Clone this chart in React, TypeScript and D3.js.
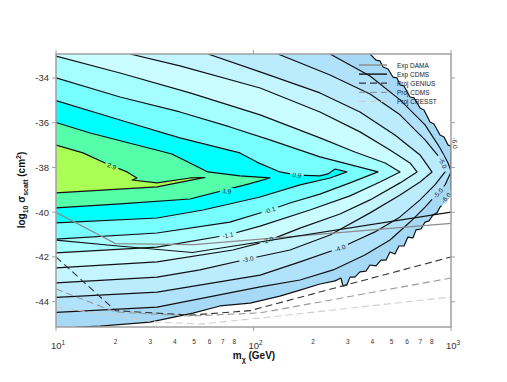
import React from 'react';
import * as d3 from 'd3';

type P = [number, number];

// ---------- axes ----------
const massDomain: P = [10, 1000];
const sigmaDomain: P = [-45.13, -32.93];
const yTicks = [-44, -42, -40, -38, -36, -34];
const xMajor = [10, 100, 1000];
const xMajorExp = ['1', '2', '3'];
const xMinorDigits = [2, 3, 4, 5, 6, 7, 8];

// ---------- contour lines [mass GeV, log10 sigma] ----------
const contour_p29: P[] = [[10,-37.0],[13.7,-37.35],[17.7,-37.8],[22.9,-38.2],[25.7,-38.47],[24.3,-38.56],[32.5,-38.69],[47.7,-38.47],[56.8,-38.45],[47.7,-38.58],[32.5,-38.87],[10,-39.14]];
const contour_p19: P[] = [[10,-35.99],[14.9,-36.46],[38.6,-37.4],[47.7,-37.8],[58.8,-38.2],[85.4,-38.38],[121,-38.47],[96,-38.72],[47.7,-39.41],[21.1,-39.63],[10,-39.81]];
const contour_p09: P[] = [[10,-35.01],[21.1,-35.88],[42.4,-36.68],[85.4,-37.35],[104,-37.76],[136,-38.2],[166,-38.34],[217,-38.38],[238,-38.29],[259,-38.07],[297,-38.2],[244,-38.47],[172,-38.78],[108,-39.32],[55.5,-39.9],[32.5,-40.26],[10,-40.48]];
const contour_m01: P[] = [[10,-34.0],[21.1,-34.85],[42.4,-35.52],[76,-36.19],[121,-36.77],[217,-37.53],[326,-37.93],[427,-38.2],[308,-38.69],[217,-39.19],[153,-39.59],[121,-39.9],[76,-40.44],[32.5,-40.93],[10,-41.2]];
const contour_m11: P[] = [[10,-33.02],[21.1,-33.78],[47.7,-34.67],[108,-35.65],[217,-36.68],[326,-37.31],[464,-37.8],[552,-38.2],[437,-38.65],[308,-39.27],[193,-39.9],[108,-40.62],[74.2,-41.02],[32.5,-41.56],[10,-41.82]];
const contour_m20: P[] = [[23.7,-32.93],[42.4,-33.46],[108,-34.45],[217,-35.52],[346,-36.41],[491,-37.22],[620,-37.8],[673,-38.2],[552,-38.69],[389,-39.45],[274,-40.08],[172,-40.71],[117,-41.29],[78.7,-41.69],[32.5,-42.22],[10,-42.49]];
const contour_m30: P[] = [[58.8,-32.93],[108,-33.73],[217,-34.67],[346,-35.52],[520,-36.55],[697,-37.44],[801,-38.2],[697,-38.65],[552,-39.23],[389,-40.03],[244,-41.02],[153,-41.69],[93.7,-42.09],[53.6,-42.58],[32.5,-42.9],[10,-43.16]];
const contour_m40: P[] = [[133,-32.93],[244,-33.87],[389,-34.72],[552,-35.65],[739,-36.77],[880,-37.58],[933,-38.2],[829,-38.78],[697,-39.45],[552,-40.21],[412,-40.88],[319,-41.33],[274,-41.6],[172,-42.22],[108,-42.81],[32.5,-43.57],[10,-43.81]];
const contour_m50: P[] = [[244,-32.93],[389,-33.91],[552,-34.98],[739,-36.1],[880,-37.13],[966,-37.8],[1000,-38.2],[933,-38.78],[859,-39.14],[739,-39.77],[620,-40.44],[491,-41.24],[366,-41.91],[253,-42.58],[172,-43.03],[108,-43.34],[32.5,-44.24],[10,-44.48]];
const contour_m60: P[] = [[389,-32.93],[417,-33.2],[437,-33.24],[453,-33.51],[480,-33.6],[508,-33.96],[533,-34.0],[552,-34.31],[578,-34.36],[620,-34.85],[650,-34.89],[697,-35.34],[730,-35.43],[783,-35.97],[820,-36.06],[880,-36.55],[922,-36.64],[966,-37.0],[1000,-37.04],[1000,-39.23],[933,-39.59],[880,-39.77],[849,-40.03],[811,-40.12],[774,-40.39],[739,-40.44],[705,-40.75],[665,-40.79],[642,-41.15],[605,-41.11],[578,-41.51],[545,-41.51],[520,-41.87],[491,-41.78],[469,-42.14],[442,-42.14],[417,-42.4],[389,-42.36],[371,-42.63],[346,-42.67],[326,-42.9],[308,-42.9],[297,-43.25],[284,-43.3],[277,-42.94],[259,-43.07],[217,-43.21],[172,-43.48],[136,-43.75],[96,-44.06],[67.6,-44.19],[49.4,-44.51],[29.9,-44.91],[16.7,-45.09],[12.9,-45.13],[10,-45.3]];

const contourLevels = ['-6.0', '-5.0', '-4.0', '-3.0', '-2.0', '-1.1', '-0.1', '0.9', '1.9', '2.9'];
const contourLines = [contour_m60, contour_m50, contour_m40, contour_m30, contour_m20, contour_m11, contour_m01, contour_p09, contour_p19, contour_p29];
const bandColors = ['#a5d9f6', '#b0e3fb', '#baecfe', '#c2f5ff', '#c9fdff', '#a6ffff', '#77ffff', '#00ffff', '#55ffaa', '#aaff55'];

// contour labels: [level index, mass, log sigma]
const contourLabels: [number, number, number][] = [
  [9, 19.2, -37.93], [8, 73.4, -39.05], [7, 166, -38.34], [6, 121, -39.9], [5, 74.2, -41.02],
  [4, 118, -41.24], [3, 93.7, -42.09], [2, 274, -41.6], [1, 911, -37.8], [1, 859, -39.14],
  [0, 1048, -36.91], [0, 943, -39.36],
];

// ---------- exclusion limits ----------
const expDAMA: P[] = [[10,-40.0],[20,-41.4],[50,-41.45],[1000,-40.5]];
const expCDMS: P[] = [[10,-41.25],[20,-41.5],[49,-41.8],[1000,-40.0]];
const projGENIUS: P[] = [[10,-42.0],[20,-44.4],[48,-44.6],[96,-44.4],[1000,-42.0]];
const projCDMS: P[] = [[10,-43.43],[20,-44.46],[48,-44.64],[108,-44.5],[1000,-42.94]];
const projCRESST: P[] = [[10,-44.24],[32.5,-44.91],[53.6,-45.0],[108,-44.73],[1000,-43.79]];

const limitNames = ['Exp DAMA', 'Exp CDMS', 'Proj GENIUS', 'Proj CDMS', 'Proj CRESST'];
const limitData = [expDAMA, expCDMS, projGENIUS, projCDMS, projCRESST];
const limitStyles = [
  { stroke: '#8a8a8a', dash: 'none', w: 1.2 },
  { stroke: '#111111', dash: 'none', w: 1.2 },
  { stroke: '#333333', dash: '7,4', w: 1.1 },
  { stroke: '#9a9a9a', dash: '7,4', w: 1.1 },
  { stroke: '#cfcfcf', dash: '7,4', w: 1.1 },
];

const FONT = 'Liberation Sans, Arial, Helvetica, sans-serif';

export default function App() {
  const L = 56, R = 451, T = 54, B = 327;
  const x = d3.scaleLog().domain(massDomain).range([L, R]);
  const y = d3.scaleLinear().domain(sigmaDomain).range([B, T]);
  const line = d3.line<P>().x(d => x(d[0])).y(d => y(d[1]));

  const fillPath = (pts: P[]) => {
    const first = pts[0];
    const last = pts[pts.length - 1];
    const closed: P[] = [...pts, [massDomain[0], last[1]], [massDomain[0], first[1]]];
    return (line(closed) || '') + 'Z';
  };

  const labelAngle = (pts: P[], px: number, py: number) => {
    const pp = pts.map(p => [x(p[0]), y(p[1])]);
    let best = 0, bd = Infinity;
    pp.forEach((p, i) => {
      const d = (p[0] - px) ** 2 + (p[1] - py) ** 2;
      if (d < bd) { bd = d; best = i; }
    });
    const a = pp[Math.max(0, best - 1)];
    const b = pp[Math.min(pp.length - 1, best + 1)];
    let ang = (Math.atan2(b[1] - a[1], b[0] - a[0]) * 180) / Math.PI;
    if (ang > 90) ang -= 180;
    if (ang < -90) ang += 180;
    return ang;
  };

  const labels = contourLabels.map(([ci, m, s]) => {
    const px = x(m), py = y(s);
    const text = contourLevels[ci];
    return { px, py, text, ang: labelAngle(contourLines[ci], px, py), w: text.length * 3.6 + 3 };
  });

  const minorTicks: number[] = [];
  [10, 100].forEach(dec => xMinorDigits.forEach(k => minorTicks.push(dec * k)));

  return (
    <svg width={507} height={382} style={{ position: 'absolute', left: 0, top: 0, background: '#fff' }} fontFamily={FONT}>
      <defs>
        <clipPath id="plotClip">
          <rect x={L} y={T} width={R - L} height={B - T} />
        </clipPath>
        <mask id="labelGaps" maskUnits="userSpaceOnUse" x={0} y={0} width={507} height={382}>
          <rect x={0} y={0} width={507} height={382} fill="#fff" />
          {labels.map((l, i) => (
            <rect key={'m' + i} x={l.px - l.w / 2} y={l.py - 3.5} width={l.w} height={7} fill="#000"
              transform={`rotate(${l.ang},${l.px},${l.py})`} />
          ))}
        </mask>
      </defs>
      <g clipPath="url(#plotClip)">
        {contourLines.map((pts, i) => (
          <path key={'f' + i} d={fillPath(pts)} fill={bandColors[i]} stroke="none" />
        ))}
        <g mask="url(#labelGaps)">
          {contourLines.map((pts, i) => (
            <path key={'c' + i} d={line(pts) || ''} fill="none" stroke="#111" strokeWidth={1.2} strokeLinejoin="round" />
          ))}
        </g>
        {limitData.map((pts, i) => (
          <path key={'l' + i} d={line(pts) || ''} fill="none" stroke={limitStyles[i].stroke}
            strokeWidth={limitStyles[i].w} strokeDasharray={limitStyles[i].dash} />
        ))}
      </g>
      {labels.map((l, i) => (
        <text key={'cl' + i} x={l.px} y={l.py} fontSize={6.5} fill="#222" textAnchor="middle"
          dominantBaseline="central" transform={`rotate(${l.ang},${l.px},${l.py})`}>
          {l.text}
        </text>
      ))}
      {/* legend */}
      {limitNames.map((name, i) => {
        const ly = 65 + i * 9.1;
        return (
          <g key={'lg' + i}>
            <line x1={359} x2={387} y1={ly} y2={ly} stroke={limitStyles[i].stroke}
              strokeWidth={limitStyles[i].w + 0.2} strokeDasharray={limitStyles[i].dash} />
            <text x={397} y={ly} fontSize={6.5} fill="#222" dominantBaseline="central">{name}</text>
          </g>
        );
      })}
      {/* frame */}
      <rect x={L} y={T} width={R - L} height={B - T} fill="none" stroke="#a0a0a0" strokeWidth={1.5} />
      {yTicks.map(t => (
        <g key={'yt' + t}>
          <line x1={L - 4} x2={L} y1={y(t)} y2={y(t)} stroke="#a0a0a0" strokeWidth={1} />
          <line x1={R} x2={R + 4} y1={y(t)} y2={y(t)} stroke="#a0a0a0" strokeWidth={1} />
          <text x={L - 7} y={y(t)} fontSize={9.5} fill="#333" textAnchor="end" dominantBaseline="central">{String(t)}</text>
        </g>
      ))}
      {xMajor.map((v, i) => (
        <g key={'xm' + v}>
          <line x1={x(v)} x2={x(v)} y1={T - 4} y2={T} stroke="#a0a0a0" strokeWidth={1} />
          <line x1={x(v)} x2={x(v)} y1={B} y2={B + 4} stroke="#a0a0a0" strokeWidth={1} />
          <text x={x(v) + 2} y={348.5} fontSize={9.5} fill="#333" textAnchor="middle">
            10<tspan fontSize={6.5} dy={-4}>{xMajorExp[i]}</tspan>
          </text>
        </g>
      ))}
      {minorTicks.map(v => (
        <text key={'xn' + v} x={x(v)} y={343.5} fontSize={6.5} fill="#333" textAnchor="middle">
          {String(Math.round(v / (v < 100 ? 10 : 100)))}
        </text>
      ))}
      {/* axis titles */}
      <text x={254} y={359} fontSize={10} fontWeight="bold" fill="#111" textAnchor="middle">
        m<tspan fontSize={7} dy={2.5}>χ</tspan><tspan dy={-2.5}> (GeV)</tspan>
      </text>
      <text transform="translate(25,190) rotate(-90)" fontSize={10} fontWeight="bold" fill="#111" textAnchor="middle">
        log<tspan fontSize={7} dy={2.5}>10</tspan><tspan dy={-2.5}> σ</tspan><tspan fontSize={7} dy={2.5}>scatt</tspan>
        <tspan dy={-2.5}> (cm</tspan><tspan fontSize={7} dy={-4}>2</tspan><tspan dy={4}>)</tspan>
      </text>
    </svg>
  );
}
